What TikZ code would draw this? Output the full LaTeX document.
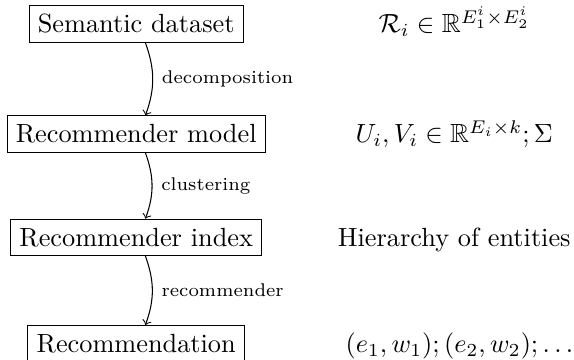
\documentclass[tikz,border=0pt]{standalone}
\RequirePackage{amsmath}
\RequirePackage{amssymb}

\begin{document}
\begin{tikzpicture}[>=to,box/.style={draw,anchor=base},txt/.style={anchor=base},lbl/.style={font=\scriptsize,right}]
\useasboundingbox (0,-0.1) rectangle (7.67,4.71);
\node[box] (sem) at (1.82,4.27) {Semantic dataset};
\node[box] (model) at (1.82,2.8) {Recommender model};
\node[box] (index) at (1.82,1.42) {Recommender index};
\node[box] (rec) at (1.82,0) {Recommendation};
\node[txt] (semf) at (6.07,4.27) {$\mathcal{R}_i \in \mathbb{R}^{E_1^i\times E_2^i}$};
\node[txt] (modelf) at (6.07,2.8) {$U_i, V_i \in \mathbb{R}^{E_i\times k};\Sigma$};
\node[txt] (indexf) at (6.07,1.42) {Hierarchy of entities};
\node[txt] (recf) at (6.14,0) {$(e_1,w_1);(e_2,w_2);\ldots$};
\draw[->] ([xshift=3.5pt]sem.south) to[bend left=20] node[lbl] {decomposition} ([xshift=3.5pt]model.north);
\draw[->] ([xshift=3.5pt]model.south) to[bend left=20] node[lbl] {clustering} ([xshift=3.5pt]index.north);
\draw[->] ([xshift=3.5pt]index.south) to[bend left=20] node[lbl] {recommender} ([xshift=3.5pt]rec.north);
\end{tikzpicture}
\end{document}
